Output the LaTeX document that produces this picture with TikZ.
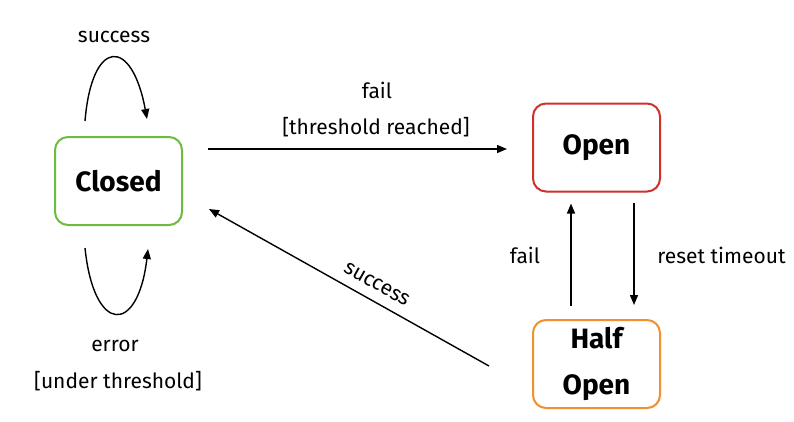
\documentclass[tikz,border=0pt]{standalone}
\usepackage{fontspec}
\setmainfont{Fira Sans}
\usetikzlibrary{arrows.meta,shadows}
\definecolor{cgreen}{HTML}{6DBB3F}
\definecolor{cred}{HTML}{D0312D}
\definecolor{corange}{HTML}{F0902F}
\begin{document}
\begin{tikzpicture}[x=1pt,y=-1pt,
  statebox/.style={draw=#1, line width=2pt, rounded corners=13pt, fill=white,
    minimum width=127pt, minimum height=88pt, inner sep=0pt, align=center,
    font=\fontsize{28}{46}\selectfont\bfseries,
    drop shadow={opacity=0.15, shadow xshift=1pt, shadow yshift=-1pt}},
  lbl/.style={font=\fontsize{21}{24}\selectfont, inner sep=0pt},
  arr/.style={line width=1.4pt, -{Triangle[length=10pt,width=8pt]}}]
\useasboundingbox (0,0) rectangle (794,421);
\node[statebox=cgreen] (closed) at (118.5,181) {Closed};
\node[statebox=cred] (open) at (596.5,147.5) {Open};
\node[statebox=corange] (half) at (596.5,364) {Half\\Open};
% top loop
\draw[arr] ([xshift=-33.5pt,yshift=15pt]closed.north) .. controls (92,37) and (132,37) .. ([xshift=28.5pt,yshift=17pt]closed.north);
\node[lbl] (lsucc1) at (114,37) {success};
% bottom loop
\draw[arr] ([xshift=-33.5pt,yshift=-22pt]closed.south) .. controls (94,335) and (138,335) .. ([xshift=29.5pt,yshift=-23pt]closed.south);
\node[lbl] (lerr) at (115,346) {error};
\node[lbl] (lunder) at (118,381) {[under threshold]};
% closed -> open
\draw[arr] ([xshift=25pt,yshift=32pt]closed.east) -- ([xshift=-25pt,yshift=-1.5pt]open.west);
\node[lbl] (lfail1) at (377,90) {fail};
\node[lbl] (lthr) at (376,127) {[threshold reached]};
% half -> closed
\draw[arr] ([xshift=-43pt,yshift=-2pt]half.west) -- node[lbl, sloped, above=10pt, pos=0.43] {success} ([xshift=26pt,yshift=17pt]closed.south east);
% half -> open
\draw[arr] ([xshift=-25.5pt,yshift=13pt]half.north) -- ([xshift=-25.5pt,yshift=-11pt]open.south);
\node[lbl] (lfail2) at (525,255) {fail};
% open -> half
\draw[arr] ([xshift=37.5pt,yshift=-10pt]open.south) -- ([xshift=37.5pt,yshift=14pt]half.north);
\node[lbl] (lreset) at (721.5,255) {reset timeout};
\end{tikzpicture}
\end{document}
